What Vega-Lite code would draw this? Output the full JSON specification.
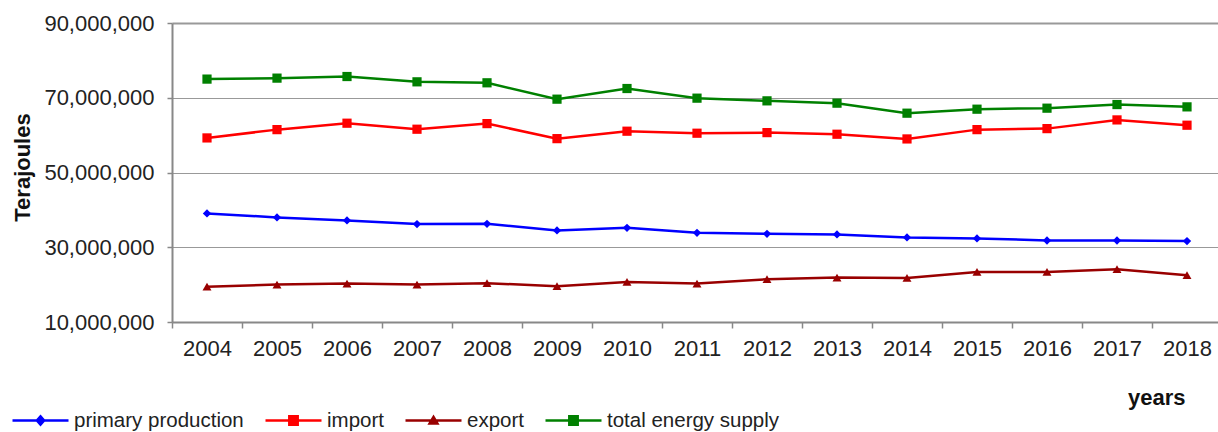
{
  "$schema": "https://vega.github.io/schema/vega-lite/v6.json",
  "width": 1046,
  "height": 299,
  "autosize": {"type": "none"},
  "padding": {"left": 172, "top": 23, "right": 0, "bottom": 110},
  "background": "white",
  "config": {
    "font": "Liberation Sans",
    "view": {"stroke": null},
    "axis": {"labelColor": "#222", "titleColor": "#111", "labelFont": "Liberation Sans", "titleFont": "Liberation Sans"}
  },
  "data": {
    "values": [
      {"year": "2004", "series": "primary production", "value": 39060000},
      {"year": "2005", "series": "primary production", "value": 37990000},
      {"year": "2006", "series": "primary production", "value": 37190000},
      {"year": "2007", "series": "primary production", "value": 36190000},
      {"year": "2008", "series": "primary production", "value": 36270000},
      {"year": "2009", "series": "primary production", "value": 34500000},
      {"year": "2010", "series": "primary production", "value": 35200000},
      {"year": "2011", "series": "primary production", "value": 33860000},
      {"year": "2012", "series": "primary production", "value": 33590000},
      {"year": "2013", "series": "primary production", "value": 33430000},
      {"year": "2014", "series": "primary production", "value": 32630000},
      {"year": "2015", "series": "primary production", "value": 32360000},
      {"year": "2016", "series": "primary production", "value": 31820000},
      {"year": "2017", "series": "primary production", "value": 31820000},
      {"year": "2018", "series": "primary production", "value": 31640000},
      {"year": "2004", "series": "import", "value": 59250000},
      {"year": "2005", "series": "import", "value": 61470000},
      {"year": "2006", "series": "import", "value": 63190000},
      {"year": "2007", "series": "import", "value": 61580000},
      {"year": "2008", "series": "import", "value": 63080000},
      {"year": "2009", "series": "import", "value": 59060000},
      {"year": "2010", "series": "import", "value": 61050000},
      {"year": "2011", "series": "import", "value": 60510000},
      {"year": "2012", "series": "import", "value": 60670000},
      {"year": "2013", "series": "import", "value": 60240000},
      {"year": "2014", "series": "import", "value": 58980000},
      {"year": "2015", "series": "import", "value": 61470000},
      {"year": "2016", "series": "import", "value": 61740000},
      {"year": "2017", "series": "import", "value": 64070000},
      {"year": "2018", "series": "import", "value": 62650000},
      {"year": "2004", "series": "export", "value": 19440000},
      {"year": "2005", "series": "export", "value": 20030000},
      {"year": "2006", "series": "export", "value": 20290000},
      {"year": "2007", "series": "export", "value": 20030000},
      {"year": "2008", "series": "export", "value": 20380000},
      {"year": "2009", "series": "export", "value": 19570000},
      {"year": "2010", "series": "export", "value": 20720000},
      {"year": "2011", "series": "export", "value": 20290000},
      {"year": "2012", "series": "export", "value": 21450000},
      {"year": "2013", "series": "export", "value": 21900000},
      {"year": "2014", "series": "export", "value": 21800000},
      {"year": "2015", "series": "export", "value": 23400000},
      {"year": "2016", "series": "export", "value": 23400000},
      {"year": "2017", "series": "export", "value": 24130000},
      {"year": "2018", "series": "export", "value": 22520000},
      {"year": "2004", "series": "total energy supply", "value": 74990000},
      {"year": "2005", "series": "total energy supply", "value": 75250000},
      {"year": "2006", "series": "total energy supply", "value": 75680000},
      {"year": "2007", "series": "total energy supply", "value": 74260000},
      {"year": "2008", "series": "total energy supply", "value": 74000000},
      {"year": "2009", "series": "total energy supply", "value": 69620000},
      {"year": "2010", "series": "total energy supply", "value": 72470000},
      {"year": "2011", "series": "total energy supply", "value": 69890000},
      {"year": "2012", "series": "total energy supply", "value": 69170000},
      {"year": "2013", "series": "total energy supply", "value": 68550000},
      {"year": "2014", "series": "total energy supply", "value": 65870000},
      {"year": "2015", "series": "total energy supply", "value": 66940000},
      {"year": "2016", "series": "total energy supply", "value": 67210000},
      {"year": "2017", "series": "total energy supply", "value": 68180000},
      {"year": "2018", "series": "total energy supply", "value": 67560000}
    ]
  },
  "encoding": {
    "x": {
      "field": "year",
      "type": "ordinal",
      "scale": {"type": "band", "range": [0, 1050], "paddingInner": 0, "paddingOuter": 0},
      "axis": {
        "title": "years",
        "titleFontSize": 22,
        "titleFontWeight": "bold",
        "titleAnchor": "end",
        "titleAlign": "right",
        "titleBaseline": "alphabetic",
        "titleX": 1013,
        "titleY": 82,
        "labelAngle": 0,
        "labelFontSize": 22,
        "labelPadding": 10,
        "tickBand": "extent",
        "tickSize": 6,
        "tickColor": "#888",
        "tickWidth": 1.5,
        "domainColor": "#888",
        "domainWidth": 2,
        "grid": false
      }
    },
    "y": {
      "field": "value",
      "type": "quantitative",
      "scale": {"domain": [10000000, 90000000], "nice": false, "zero": false},
      "axis": {
        "title": "Terajoules",
        "titleFontSize": 22,
        "titleFontWeight": "bold",
        "titleAngle": 270,
        "titleAlign": "center",
        "titleBaseline": "middle",
        "titleX": -150,
        "titleY": 144,
        "values": [10000000, 30000000, 50000000, 70000000, 90000000],
        "format": ",d",
        "labelFontSize": 22,
        "labelPadding": 13,
        "tickSize": 5,
        "tickColor": "#888",
        "tickWidth": 1.5,
        "domainColor": "#888",
        "domainWidth": 2,
        "grid": true,
        "gridColor": "#999",
        "gridWidth": {"condition": {"test": "datum.value === 90000000", "value": 2}, "value": 1}
      }
    }
  },
  "layer": [
    {
      "mark": {"type": "line", "strokeWidth": 2.5},
      "encoding": {
        "color": {
          "field": "series",
          "type": "nominal",
          "scale": {
            "domain": ["primary production", "import", "export", "total energy supply"],
            "range": ["#0000ff", "#ff0000", "#990000", "#008000"]
          },
          "legend": {
            "title": null,
            "orient": "none",
            "direction": "horizontal",
            "legendX": -161,
            "legendY": 368,
            "symbolSize": 3136,
            "symbolStrokeWidth": 2.5,
            "labelFontSize": 20.5,
            "labelFont": "Liberation Sans",
            "labelColor": "#222",
            "labelLimit": 0,
            "labelOffset": 4,
            "columnPadding": 16,
            "encode": {
              "symbols": {
                "update": {
                  "shape": {"signal": "datum.value === 'primary production' ? 'M-1,0H1M0,-0.15L0.13,0L0,0.15L-0.13,0Z' : datum.value === 'export' ? 'M-1,0H1M0,-0.13L0.14,0.11H-0.14Z' : 'M-1,0H1M-0.15,-0.15H0.15V0.15H-0.15Z'"},
                  "fill": {"scale": "color", "field": "value"},
                  "stroke": {"scale": "color", "field": "value"},
                  "opacity": {"value": 1}
                }
              }
            }
          }
        }
      }
    },
    {
      "mark": {"type": "point", "filled": true, "opacity": 1},
      "encoding": {
        "color": {"field": "series", "type": "nominal", "legend": null},
        "shape": {
          "condition": [
            {"test": "datum.series === 'primary production'", "value": "diamond"},
            {"test": "datum.series === 'export'", "value": "triangle-up"}
          ],
          "value": "square"
        },
        "size": {
          "condition": [
            {"test": "datum.series === 'primary production'", "value": 70},
            {"test": "datum.series === 'export'", "value": 80}
          ],
          "value": 85
        }
      }
    }
  ]
}
